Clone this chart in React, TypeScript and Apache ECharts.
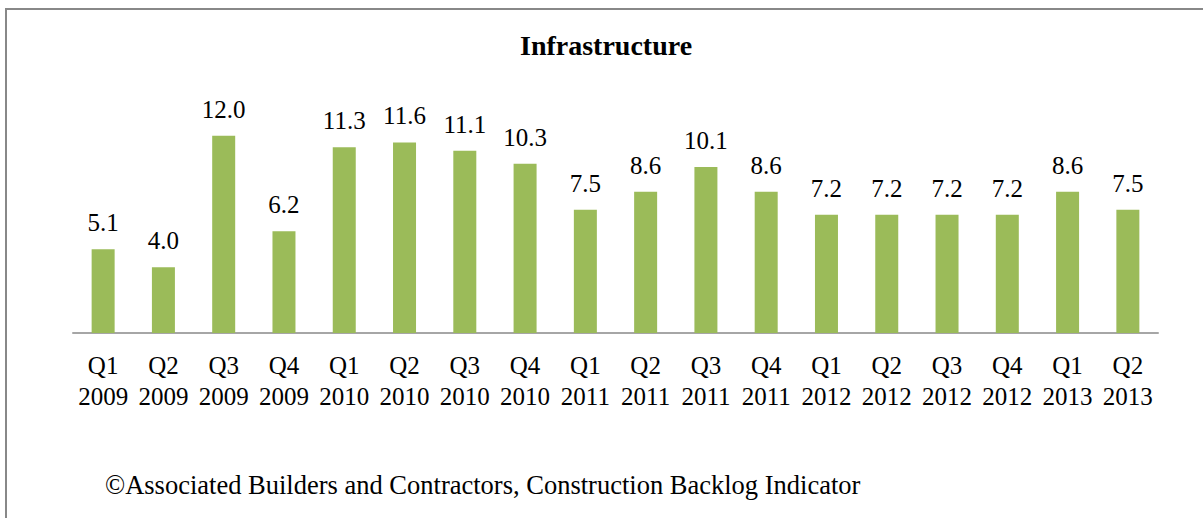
import React, { useEffect, useRef } from "react";
import * as echarts from "echarts";

const quarters = ["Q1", "Q2", "Q3", "Q4", "Q1", "Q2", "Q3", "Q4", "Q1", "Q2", "Q3", "Q4", "Q1", "Q2", "Q3", "Q4", "Q1", "Q2"];
const years = ["2009", "2009", "2009", "2009", "2010", "2010", "2010", "2010", "2011", "2011", "2011", "2011", "2012", "2012", "2012", "2012", "2013", "2013"];
const values = [5.1, 4.0, 12.0, 6.2, 11.3, 11.6, 11.1, 10.3, 7.5, 8.6, 10.1, 8.6, 7.2, 7.2, 7.2, 7.2, 8.6, 7.5];
const titleText = "Infrastructure";
const footnote = "©Associated Builders and Contractors, Construction Backlog Indicator";

const FONT = "Liberation Serif";

export default function App() {
  const ref = useRef<HTMLDivElement>(null);
  useEffect(() => {
    if (!ref.current) return;
    const chart = echarts.init(ref.current, undefined, { renderer: "svg" });
    const categories = quarters.map((q, i) => q + "\n" + years[i]);
    chart.setOption({
      animation: false,
      backgroundColor: "#ffffff",
      textStyle: { fontFamily: FONT },
      title: {
        text: titleText,
        left: 520,
        top: 31,
        padding: 0,
        textStyle: { fontFamily: FONT, fontSize: 28, fontWeight: "bold", color: "#000" },
      },
      grid: { left: 73, right: 45, top: 103, bottom: 185, containLabel: false },
      xAxis: {
        type: "category",
        data: categories,
        axisLine: { lineStyle: { color: "#a6a6a6", width: 2 } },
        axisTick: { show: false },
        axisLabel: {
          fontFamily: FONT,
          fontSize: 25,
          color: "#000",
          lineHeight: 31,
          margin: 17,
          interval: 0,
        },
      },
      yAxis: {
        type: "value",
        min: 0,
        max: 14,
        show: false,
        splitLine: { show: false },
      },
      series: [
        {
          type: "bar",
          data: values,
          barWidth: 23,
          itemStyle: { color: "#9bbb59" },
          label: {
            show: true,
            position: "top",
            distance: 14,
            fontFamily: FONT,
            fontSize: 25,
            color: "#000",
            formatter: (p: any) => Number(p.value).toFixed(1),
          },
        },
      ],
      graphic: [
        {
          type: "rect",
          shape: { x: 6, y: 9, width: 1300, height: 600 },
          style: { fill: "none", stroke: "#888888", lineWidth: 2 },
          silent: true,
        },
        {
          type: "text",
          left: 105,
          top: 471,
          style: {
            text: footnote,
            font: "26.5px Liberation Serif",
            fill: "#000",
          },
        },
      ],
    });
    return () => chart.dispose();
  }, []);
  return (
    <div
      ref={ref}
      style={{ position: "absolute", left: 0, top: 0, width: 1203, height: 518 }}
    />
  );
}
